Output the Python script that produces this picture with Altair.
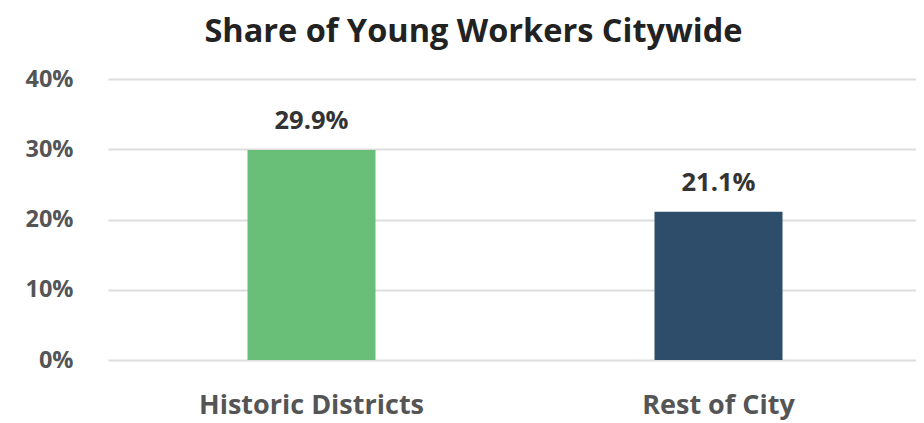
import altair as alt
import pandas as pd

categories = ["Historic Districts", "Rest of City"]
shares = [29.9, 21.1]
labels = ["29.9%", "21.1%"]
colors = ["#6abf78", "#2e4d6b"]
y_ticks = [0, 10, 20, 30, 40]

df = pd.DataFrame({"cat": categories, "share": shares, "label": labels})

FONT = "Open Sans"

base = alt.Chart(df).encode(
    x=alt.X("cat:N", sort=categories, title=None,
            scale=alt.Scale(paddingInner=0, paddingOuter=0, range=[0, 814]),
            axis=alt.Axis(labelAngle=0, labelFontSize=27, labelFontWeight="bold",
                          labelColor="#555555", labelPadding=32, ticks=False, labelLimit=400,
                          domain=False, grid=False, labelFont=FONT)),
)

bars = base.mark_bar(size=128).encode(
    y=alt.Y("share:Q", title=None,
            scale=alt.Scale(domain=[0, 40], nice=False),
            axis=alt.Axis(values=y_ticks, labelExpr="datum.value + '%'",
                          labelFontSize=23.5, labelFontWeight="bold", labelColor="#555555",
                          labelPadding=35, ticks=False, domain=False, grid=True,
                          gridColor="#dddddd", gridWidth=2, labelFont=FONT)),
    color=alt.Color("cat:N", scale=alt.Scale(domain=categories, range=colors), legend=None),
)

text = base.mark_text(dy=-16, baseline="bottom", fontSize=25.5, fontWeight="bold",
                      color="#333333", font=FONT).encode(
    y=alt.Y("share:Q"),
    text="label:N",
)

chart = (bars + text).properties(
    width=808, height=281,
    autosize=alt.AutoSizeParams(type="none"),
    padding={"left": 100, "top": 71, "right": 0, "bottom": 64},
    title=alt.TitleParams("Share of Young Workers Citywide", fontSize=32.5, fontWeight="bold",
                          color="#222222", font=FONT, anchor="middle", frame="bounds",
                          offset=19),
).configure_view(stroke=None)

chart.save("out.html", embed_options={"renderer": "svg", "actions": False})
